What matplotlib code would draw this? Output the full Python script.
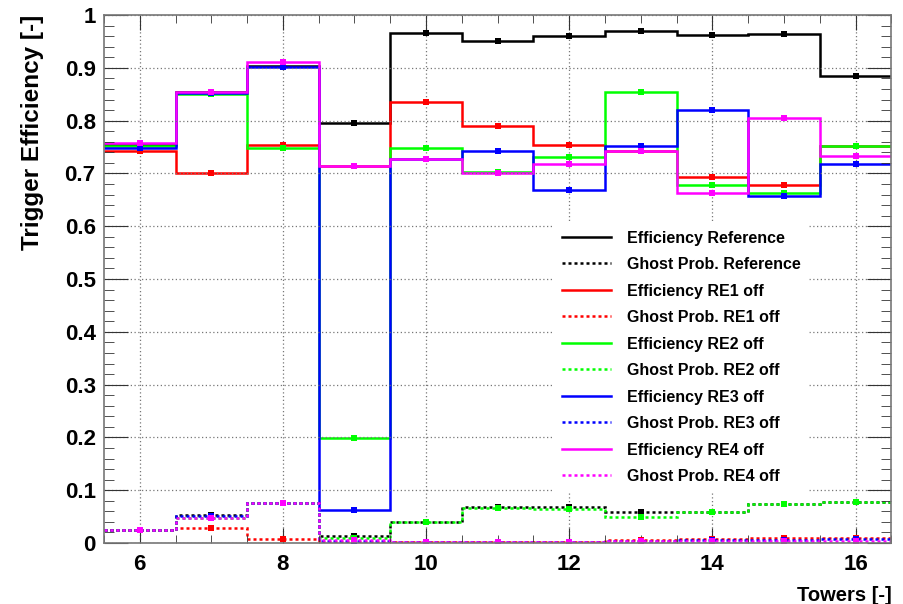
import numpy as np
import matplotlib.pyplot as plt
from matplotlib.ticker import MultipleLocator

plt.rcParams['font.family'] = ['Liberation Sans', 'DejaVu Sans']
plt.rcParams['font.weight'] = 'bold'

# bin edges of the towers histogram
edges = np.arange(5.5, 17.0, 1.0)

# efficiencies per tower (6..16)
eff_ref = [0.753, 0.855, 0.904, 0.795, 0.967, 0.950, 0.960, 0.970, 0.963, 0.965, 0.884]
eff_re1 = [0.743, 0.700, 0.753, 0.714, 0.835, 0.789, 0.753, 0.742, 0.694, 0.678, 0.752]
eff_re2 = [0.752, 0.851, 0.749, 0.198, 0.748, 0.702, 0.732, 0.855, 0.679, 0.663, 0.752]
eff_re3 = [0.748, 0.853, 0.902, 0.063, 0.727, 0.742, 0.668, 0.752, 0.820, 0.658, 0.718]
eff_re4 = [0.757, 0.854, 0.911, 0.715, 0.728, 0.701, 0.718, 0.742, 0.663, 0.806, 0.733]

# ghost probabilities per tower
gh_ref = [0.024, 0.053, 0.076, 0.013, 0.039, 0.068, 0.068, 0.058, 0.059, 0.074, 0.077]
gh_re1 = [0.025, 0.028, 0.007, 0.002, 0.002, 0.002, 0.002, 0.005, 0.008, 0.009, 0.009]
gh_re2 = [0.024, 0.047, 0.076, 0.010, 0.039, 0.067, 0.065, 0.050, 0.059, 0.074, 0.077]
gh_re3 = [0.024, 0.052, 0.075, 0.004, 0.002, 0.002, 0.002, 0.004, 0.005, 0.006, 0.007]
gh_re4 = [0.024, 0.047, 0.076, 0.006, 0.002, 0.002, 0.002, 0.003, 0.003, 0.004, 0.003]

series = [
    ('Efficiency Reference', eff_ref, 'black', '-'),
    ('Ghost Prob. Reference', gh_ref, 'black', ':'),
    ('Efficiency RE1 off', eff_re1, '#ff0000', '-'),
    ('Ghost Prob. RE1 off', gh_re1, '#ff0000', ':'),
    ('Efficiency RE2 off', eff_re2, '#00ff00', '-'),
    ('Ghost Prob. RE2 off', gh_re2, '#00ff00', ':'),
    ('Efficiency RE3 off', eff_re3, '#0000ff', '-'),
    ('Ghost Prob. RE3 off', gh_re3, '#0000ff', ':'),
    ('Efficiency RE4 off', eff_re4, '#ff00ff', '-'),
    ('Ghost Prob. RE4 off', gh_re4, '#ff00ff', ':'),
]

fig = plt.figure(figsize=(9.04, 6.04), dpi=100)
ax = fig.add_axes([0.115, 0.101, 0.871, 0.874])

centers = 0.5*(edges[:-1] + edges[1:])
handles = []
for label, vals, col, ls in series:
    st = (0, (1.2, 1.2)) if ls == ':' else '-'
    ax.stairs(vals, edges, baseline=None, color=col, lw=1.8, linestyle=st)
    ax.plot(centers, vals, 's', color=col, ms=4, mew=0)
    h, = ax.plot([], [], color=col, lw=1.8, linestyle=st, label=label)
    handles.append(h)

ax.set_xlim(5.5, 16.5)
ax.set_ylim(0, 1)
ax.xaxis.set_major_locator(MultipleLocator(2))
ax.xaxis.set_minor_locator(MultipleLocator(0.5))
ax.yaxis.set_major_locator(MultipleLocator(0.1))
ax.yaxis.set_minor_locator(MultipleLocator(0.02))
ax.set_yticks(np.arange(0, 1.01, 0.1))
ax.set_yticklabels(['0', '0.1', '0.2', '0.3', '0.4', '0.5', '0.6', '0.7', '0.8', '0.9', '1'])

ax.tick_params(which='both', direction='in', top=True, right=True, labelsize=16, colors='#333333')
ax.tick_params(axis='x', which='major', length=11, pad=8)
ax.tick_params(axis='x', which='minor', length=6)
ax.tick_params(axis='y', which='major', length=17, pad=6)
ax.tick_params(axis='y', which='minor', length=7)
for lab in ax.get_xticklabels() + ax.get_yticklabels():
    lab.set_color('black')
    lab.set_fontweight('bold')
for s in ax.spines.values():
    s.set_color('#777777')
    s.set_linewidth(1.2)

ax.grid(True, which='major', linestyle=(0, (1, 2)), color='#777777', lw=0.9)

ax.set_ylabel('Trigger Efficiency [-]', fontsize=17.5, fontweight='bold', loc='top', labelpad=15)
ax.set_xlabel('Towers [-]', fontsize=14.5, fontweight='bold', loc='right', labelpad=8)

leg = ax.legend(handles=handles, loc='lower left', bbox_to_anchor=(0.562, 0.083),
                frameon=True, fontsize=11.5, handlelength=3.1, handletextpad=1.0,
                labelspacing=0.72, borderpad=0.45)
leg.get_frame().set_edgecolor('white')
leg.get_frame().set_facecolor('white')
leg.get_frame().set_alpha(1)
leg.get_frame().set_boxstyle('square', pad=0)
for t in leg.get_texts():
    t.set_fontweight('bold')

fig.savefig('out.png', dpi=100)
